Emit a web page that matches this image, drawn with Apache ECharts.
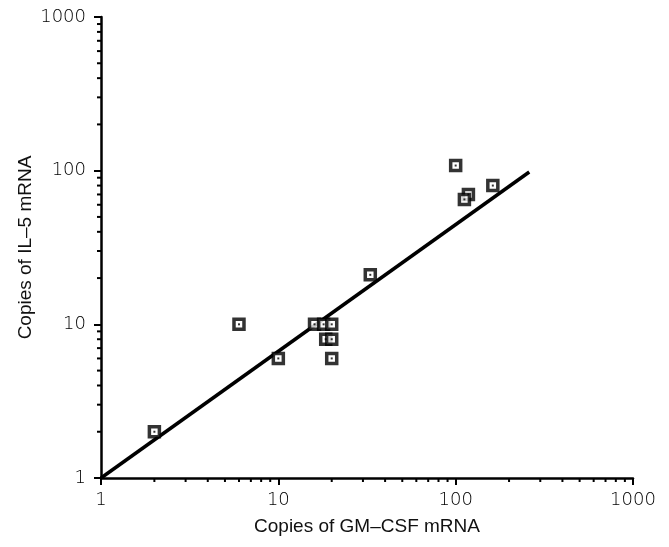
<!DOCTYPE html>
<html>
<head>
<meta charset="utf-8">
<script src="https://cdn.jsdelivr.net/npm/echarts@6/dist/echarts.min.js"></script>
<style>
  html, body { margin: 0; padding: 0; background: #fff; }
  #main { width: 669px; height: 547px; }
</style>
</head>
<body>
<div id="main"></div>
<script>
  // GM-CSF copies (x) vs IL-5 copies (y)
  const gmcsf = [2, 6, 10, 16, 18, 20, 18.5, 20, 20, 33, 100, 118, 112, 162]
  const il5 = [2, 10, 6, 10, 10, 10, 8, 8, 6, 21, 108, 70, 65, 80]
  // regression line end points
  const fitX = [1, 260]
  const fitY = [1, 98]
  // minor tick positions on both log axes
  const decades = [1, 10, 100]
  const steps = [2, 3, 4, 5, 6, 7, 8, 9]

  const points = gmcsf.map((v, i) => [v, il5[i]])
  const fitLine = fitX.map((v, i) => [v, fitY[i]])
  const minorTicks = []
  decades.forEach(d => steps.forEach(s => minorTicks.push(d * s)))

  const labelFont = { fontFamily: 'DejaVu Sans', fontWeight: 200, fontSize: 18, color: '#000' }
  const nameFont = { fontFamily: 'Liberation Sans', fontSize: 19, color: '#111' }

  const chart = echarts.init(document.getElementById('main'))
  chart.setOption({
    animation: false,
    grid: { left: 101, right: 36, top: 17, bottom: 69 },
    xAxis: {
      type: 'log',
      min: 1,
      max: 1000,
      logBase: 10,
      name: 'Copies of GM\u2013CSF mRNA',
      nameLocation: 'middle',
      nameGap: 39,
      nameMoveOverlap: false,
      nameTextStyle: nameFont,
      axisLine: { lineStyle: { color: '#000', width: 2.5 } },
      axisTick: { length: 7, lineStyle: { color: '#000', width: 2 } },
      axisLabel: Object.assign({ margin: 13, formatter: v => String(v) }, labelFont),
      splitLine: { show: false }
    },
    yAxis: {
      type: 'log',
      min: 1,
      max: 1000,
      logBase: 10,
      name: 'Copies of IL\u20135 mRNA',
      nameLocation: 'middle',
      nameGap: 66,
      nameMoveOverlap: false,
      nameTextStyle: nameFont,
      axisLine: { lineStyle: { color: '#000', width: 2.5 } },
      axisTick: { length: 7, lineStyle: { color: '#000', width: 2 } },
      axisLabel: Object.assign({ margin: 15, formatter: v => String(v) }, labelFont),
      splitLine: { show: false }
    },
    series: [
      {
        // minor ticks drawn through the axis scales
        type: 'custom',
        clip: false,
        silent: true,
        data: minorTicks,
        renderItem: (params, api) => {
          const v = api.value(0)
          const px = api.coord([v, 1])
          const py = api.coord([1, v])
          return {
            type: 'group',
            children: [
              { type: 'line', shape: { x1: px[0], y1: px[1], x2: px[0], y2: px[1] + 4 }, style: { stroke: '#000', lineWidth: 2 } },
              { type: 'line', shape: { x1: py[0], y1: py[1], x2: py[0] - 4, y2: py[1] }, style: { stroke: '#000', lineWidth: 2 } }
            ]
          }
        }
      },
      {
        type: 'line',
        data: fitLine,
        symbol: 'none',
        lineStyle: { color: '#000', width: 3.5 },
        z: 2
      },
      {
        type: 'scatter',
        data: points,
        symbol: 'rect',
        symbolSize: 10,
        itemStyle: { color: '#fff', borderColor: '#000', borderWidth: 3.5 },
        z: 3
      },
      {
        type: 'scatter',
        data: points,
        symbol: 'rect',
        symbolSize: 2,
        itemStyle: { color: '#000' },
        z: 4
      }
    ]
  })
</script>
</body>
</html>
